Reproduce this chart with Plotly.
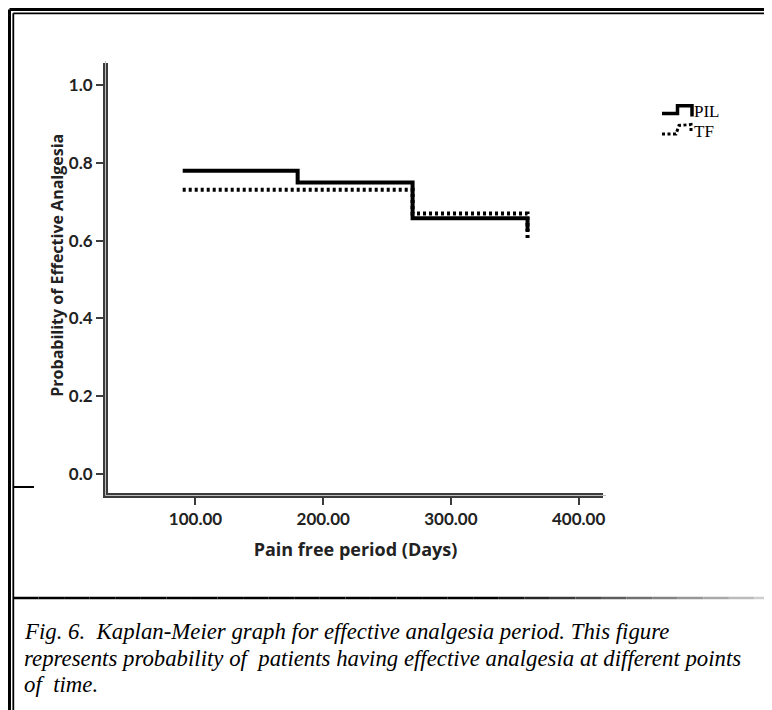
import plotly.graph_objects as go

# ---- data ----
pil_days = [90, 180, 180, 270, 270, 360, 360]
pil_prob = [0.780, 0.780, 0.750, 0.750, 0.658, 0.658, 0.625]
tf_days = [90, 270, 270, 360, 360]
tf_prob = [0.731, 0.731, 0.670, 0.670, 0.600]

series_names = ["PIL", "TF"]
x_ticks = [100, 200, 300, 400]
y_ticks = [0.0, 0.2, 0.4, 0.6, 0.8, 1.0]

x_title = "Pain free period (Days)"
y_title = "Probability of Effective Analgesia"
caption_lines = [
    "Fig. 6.&nbsp; Kaplan-Meier graph for effective analgesia period. This figure",
    "represents probability of&nbsp; patients having effective analgesia at different points",
    "of&nbsp; time.",
]

W, H = 772, 710
L, R, T, B = 100, 177, 55, 225
PW = W - L - R
PH = H - T - B


def px(x):
    return (x - L) / PW


def py(y):
    return (H - B - y) / PH


def path(points):
    return "M " + " L ".join(f"{px(a):.5f},{py(b):.5f}" for a, b in points)


fig = go.Figure()
fig.add_trace(go.Scatter(x=pil_days, y=pil_prob, mode="lines", name=series_names[0],
                         line=dict(color="black", width=4)))
fig.add_trace(go.Scatter(x=tf_days, y=tf_prob, mode="lines", name=series_names[1],
                         line=dict(color="black", width=4, dash="3px,3px")))

tickfont = dict(family="Lato, Liberation Sans, sans-serif", size=17, color="#222", weight="bold")
axcol = "#3c3c3c"

fig.update_xaxes(range=[31.5, 419.1], tickvals=x_ticks, tickformat=".2f",
                 showgrid=False, zeroline=False, showline=True, linecolor=axcol, linewidth=5,
                 ticks="outside", ticklen=7, tickwidth=1.5, tickcolor=axcol,
                 tickfont=tickfont,
                 title=dict(text=x_title, standoff=16,
                            font=dict(family="Open Sans, Liberation Sans, sans-serif", size=18,
                                      color="#222", weight="bold")))
fig.update_yaxes(range=[-0.0494, 1.0574], tickvals=y_ticks, tickformat=".1f",
                 showgrid=False, zeroline=False, showline=True, linecolor=axcol, linewidth=5,
                 ticks="outside", ticklen=7, tickwidth=1.5, tickcolor=axcol,
                 tickfont=tickfont, ticklabelstandoff=0)

shapes = []
# light centre stripe of the double axis lines
shapes.append(dict(type="line", xref="paper", yref="paper", layer="above",
                   x0=px(L - 2.5), x1=px(L - 2.5), y0=py(T - 2), y1=py(H - B + 2.5),
                   line=dict(color="#bdbdbd", width=1)))
shapes.append(dict(type="line", xref="paper", yref="paper", layer="above",
                   x0=px(L - 2.5), x1=px(W - R + 3), y0=py(H - B + 2.5), y1=py(H - B + 2.5),
                   line=dict(color="#bdbdbd", width=1)))
# outer double frame (top and left)
for off, w in [(1.5, 3), (5.3, 1.8)]:
    shapes.append(dict(type="line", xref="paper", yref="paper", x0=px(off), x1=px(W + 5),
                       y0=py(off), y1=py(off), line=dict(color="black", width=w)))
    shapes.append(dict(type="line", xref="paper", yref="paper", x0=px(off), x1=px(off),
                       y0=py(off), y1=py(H + 5), line=dict(color="black", width=w)))
# small mark on the left
shapes.append(dict(type="line", xref="paper", yref="paper", x0=px(5), x1=px(26),
                   y0=py(479), y1=py(479), line=dict(color="black", width=2)))
# separator line above caption, fading right
n = 30
x_start, x_end = 5, 772
for i in range(n):
    a = x_start + (x_end - x_start) * i / n
    b = x_start + (x_end - x_start) * (i + 1) / n
    t = max(0.0, (i / n - 0.6) / 0.4)
    g = int(225 * t)
    shapes.append(dict(type="line", xref="paper", yref="paper", x0=px(a), x1=px(b),
                       y0=py(590), y1=py(590), line=dict(color=f"rgb({g},{g},{g})", width=2.5)))
# legend glyphs
shapes.append(dict(type="path", xref="paper", yref="paper",
                   path=path([(654, 105.5), (669.5, 105.5), (669.5, 97.8), (684, 97.8), (684, 108.5)]),
                   line=dict(color="black", width=3.5)))
shapes.append(dict(type="path", xref="paper", yref="paper",
                   path=path([(654, 126), (668, 126), (671, 117.5), (683, 116.5), (683, 125.5)]),
                   line=dict(color="black", width=3, dash="3px,2.5px")))

legfont = dict(family="Liberation Serif, serif", size=17, color="black")
annotations = [
    dict(text=series_names[0], xref="paper", yref="paper", x=px(684), y=py(103.5),
         xanchor="left", yanchor="middle", showarrow=False, font=legfont),
    dict(text=series_names[1], xref="paper", yref="paper", x=px(684), y=py(123.5),
         xanchor="left", yanchor="middle", showarrow=False, font=legfont),
    dict(text=y_title, xref="paper", yref="paper", x=px(48.7), y=py(257),
         xanchor="center", yanchor="middle", textangle=-90, showarrow=False,
         font=dict(family="Open Sans, Liberation Sans, sans-serif", size=16, color="#222",
                   weight="bold")),
]
cap_font = dict(family="Liberation Serif, serif", size=22.8, color="black", style="italic")
for line, yc in zip(caption_lines, [623, 650, 676]):
    annotations.append(dict(text=line, xref="paper", yref="paper", x=px(14), y=py(yc),
                            xanchor="left", yanchor="middle", align="left", showarrow=False,
                            font=cap_font))

fig.update_layout(
    width=W, height=H,
    margin=dict(l=L, r=R, t=T, b=B),
    paper_bgcolor="white", plot_bgcolor="white",
    showlegend=False,
    shapes=shapes,
    annotations=annotations,
)

fig.write_html("out.html")
